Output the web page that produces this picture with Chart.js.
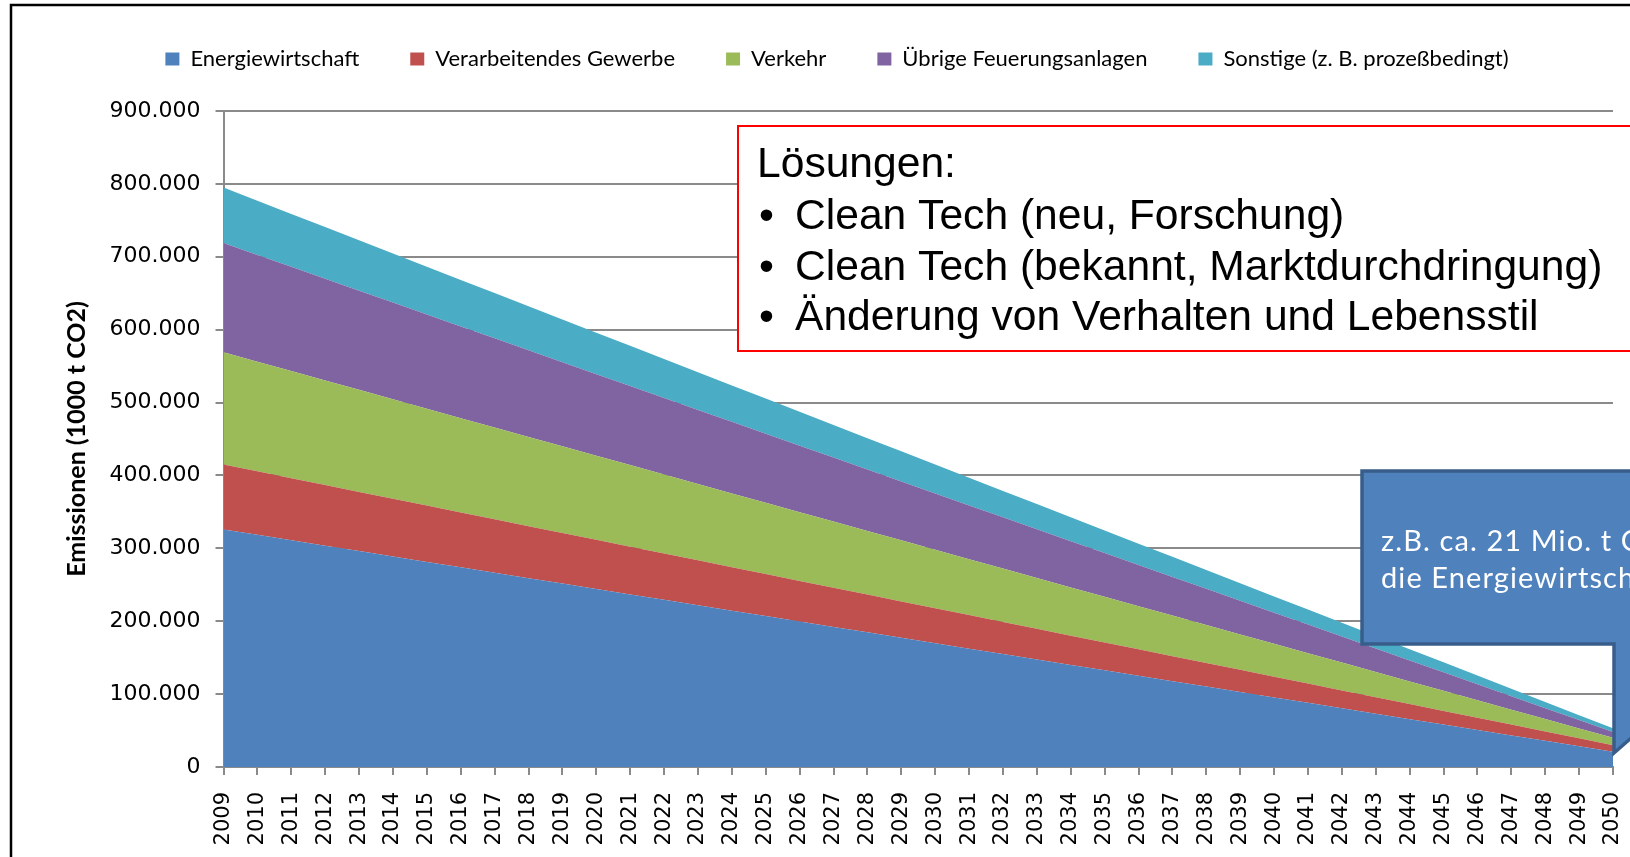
<!DOCTYPE html>
<html><head><meta charset="utf-8">
<script src="https://cdn.jsdelivr.net/npm/chart.js@4/dist/chart.umd.min.js"></script>
<style>html,body{margin:0;padding:0;background:#fff;overflow:hidden}canvas{display:block}</style>
</head><body>
<canvas id="c" width="1630" height="857"></canvas>
<script>
const years = ['2009','2010','2011','2012','2013','2014','2015','2016','2017','2018','2019','2020','2021','2022','2023','2024','2025','2026','2027','2028','2029','2030','2031','2032','2033','2034','2035','2036','2037','2038','2039','2040','2041','2042','2043','2044','2045','2046','2047','2048','2049','2050'];

const energiewirtschaft = [326000,318600,311100,303700,296200,288800,281400,273900,266500,259000,251600,244200,236700,229300,221900,214400,207000,199500,192100,184700,177200,169800,162300,154900,147500,140000,132600,125100,117700,110300,102800,95400,88000,80500,73100,65600,58200,50800,43300,35900,28400,21000];
const verarbeitendesGewerbe = [89000,87000,85100,83100,81200,79200,77300,75300,73400,71400,69500,67500,65600,63600,61700,59700,57800,55800,53900,51900,50000,48000,46100,44100,42200,40200,38300,36300,34400,32400,30500,28500,26600,24600,22700,20700,18800,16800,14900,12900,11000,9000];
const verkehr = [154000,150500,147000,143500,140000,136400,132900,129400,125900,122400,118900,115400,111900,108300,104800,101300,97800,94300,90800,87300,83800,80200,76700,73200,69700,66200,62700,59200,55700,52100,48600,45100,41600,38100,34600,31100,27600,24000,20500,17000,13500,10000];
const uebrigeFeuerungsanlagen = [150000,146500,143100,139600,136100,132700,129200,125800,122300,118800,115400,111900,108400,105000,101500,98100,94600,91100,87700,84200,80700,77300,73800,70300,66900,63400,60000,56500,53000,49600,46100,42600,39200,35700,32300,28800,25300,21900,18400,14900,11500,8000];
const sonstige = [76000,74300,72500,70800,69100,67300,65600,63900,62100,60400,58700,56900,55200,53500,51800,50000,48300,46600,44800,43100,41400,39600,37900,36200,34400,32700,31000,29200,27500,25800,24100,22300,20600,18900,17100,15400,13700,11900,10200,8500,6700,5000];

const seriesNames = ['Energiewirtschaft','Verarbeitendes Gewerbe','Verkehr','Übrige Feuerungsanlagen','Sonstige (z. B. prozeßbedingt)'];
const seriesValues = [energiewirtschaft, verarbeitendesGewerbe, verkehr, uebrigeFeuerungsanlagen, sonstige];
const seriesColors = ['#4F81BD','#C0504D','#9BBB59','#8064A2','#4BACC6'];

const yTickLabels = ['0','100.000','200.000','300.000','400.000','500.000','600.000','700.000','800.000','900.000'];
const yMax = 900000, yStep = 100000;
const yTitle = 'Emissionen (1000 t CO2)';

const boxTitle = 'Lösungen:';
const boxItems = ['Clean Tech (neu, Forschung)','Clean Tech (bekannt, Marktdurchdringung)','Änderung von Verhalten und Lebensstil'];
const calloutLines = ['z.B. ca. 21 Mio. t CO2 für','die Energiewirtschaft'];

const GRID = '#8a8a8a';

const annot = {
  id: 'annot',
  beforeLayout(chart) {
    const lg = chart.legend;
    if (lg && !lg._patched) {
      const f = lg.fit;
      lg.fit = function() { f.call(this); this.height = 114; };
      lg._patched = true;
    }
  },
  afterDraw(chart) {
    const ctx = chart.ctx;
    ctx.save();
    // red solutions box
    ctx.fillStyle = '#ffffff';
    ctx.fillRect(738, 126, 1000, 225);
    ctx.strokeStyle = '#ff0000';
    ctx.lineWidth = 2;
    ctx.strokeRect(738, 126, 1000, 225);
    ctx.fillStyle = '#000';
    ctx.font = '42.6px "Liberation Sans", Arial, sans-serif';
    ctx.textBaseline = 'alphabetic';
    ctx.textAlign = 'left';
    ctx.fillText(boxTitle, 757, 177);
    boxItems.forEach((t, i) => {
      const y = 229 + i * 50.5;
      ctx.fillText('•', 759, y);
      ctx.fillText(t, 795, y);
    });
    // blue callout
    ctx.beginPath();
    ctx.moveTo(1362, 471);
    ctx.lineTo(1800, 471);
    ctx.lineTo(1800, 644);
    ctx.lineTo(1739, 644);
    ctx.lineTo(1614, 753);
    ctx.lineTo(1614, 644);
    ctx.lineTo(1362, 644);
    ctx.closePath();
    ctx.fillStyle = '#4F81BD';
    ctx.fill();
    ctx.strokeStyle = '#385D8A';
    ctx.lineWidth = 3.5;
    ctx.lineJoin = 'miter';
    ctx.stroke();
    ctx.fillStyle = '#ffffff';
    ctx.font = '29px Lato, sans-serif';
    try { ctx.letterSpacing = '1.1px'; } catch (e) {}
    ctx.fillText(calloutLines[0], 1381, 551);
    ctx.fillText(calloutLines[1], 1381, 588);
    try { ctx.letterSpacing = '0px'; } catch (e) {}
    // outer frame
    ctx.strokeStyle = '#000';
    ctx.lineWidth = 2.5;
    ctx.strokeRect(11, 5, 1800, 1000);
    ctx.restore();
  }
};

new Chart(document.getElementById('c'), {
  type: 'line',
  data: {
    labels: years,
    datasets: seriesValues.map((vals, i) => ({
      label: seriesNames[i],
      data: vals,
      backgroundColor: seriesColors[i],
      borderColor: seriesColors[i],
      borderWidth: 0,
      pointRadius: 0,
      tension: 0,
      fill: i === 0 ? 'origin' : '-1'
    }))
  },
  options: {
    responsive: false,
    animation: false,
    events: [],
    layout: { padding: { left: 44, right: 0, top: -3, bottom: 0 } },
    plugins: {
      legend: {
        display: true,
        position: 'top',
        labels: {
          boxWidth: 14,
          boxHeight: 13,
          padding: 51,
          color: '#000',
          font: { family: 'Lato', size: 22 }
        }
      },
      tooltip: { enabled: false }
    },
    scales: {
      x: {
        offset: false,
        grid: { display: true, drawOnChartArea: false, drawTicks: true, tickLength: 8, color: GRID, lineWidth: 2 },
        border: { display: true, color: GRID, width: 2 },
        ticks: {
          autoSkip: false, minRotation: 90, maxRotation: 90, padding: 17,
          color: '#000', font: { family: '"DejaVu Sans"', size: 21 }
        },
        afterFit(s) { s.height = 90; s.paddingRight = 17; s.paddingLeft = 10; }
      },
      y: {
        stacked: true,
        min: 0, max: yMax,
        grid: { color: GRID, lineWidth: 2, tickLength: 8, drawTicks: true },
        border: { display: true, color: GRID, width: 2 },
        ticks: {
          stepSize: yStep, padding: 15, color: '#000',
          font: { family: '"DejaVu Sans"', size: 22 },
          callback: (v, i) => yTickLabels[i]
        },
        title: {
          display: true, text: yTitle, color: '#000',
          font: { family: 'Lato', size: 25, weight: 'bold' },
          padding: { top: 18, bottom: 0 }
        },
        afterFit(s) { s.width = 179.5; }
      }
    }
  },
  plugins: [annot]
});
</script>
</body></html>
